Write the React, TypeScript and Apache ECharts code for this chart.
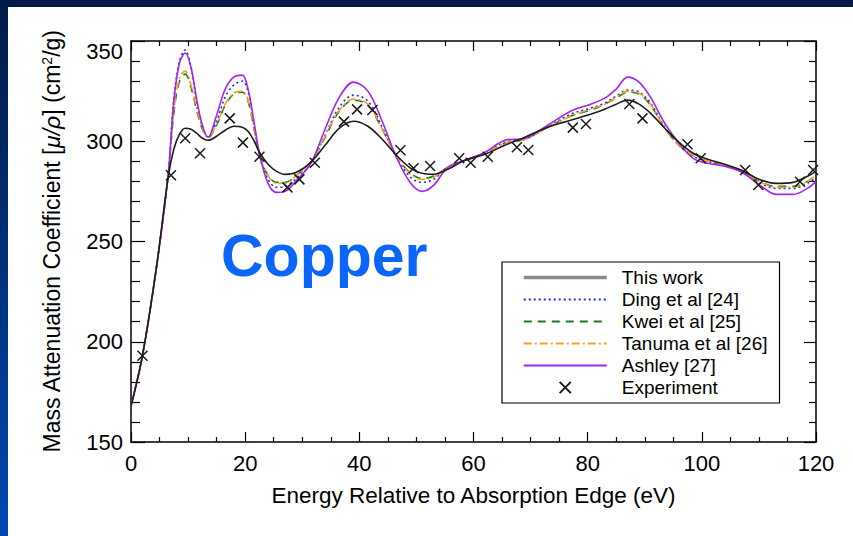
import React, { useEffect, useRef } from "react";
import * as echarts from "echarts";

// Energy grid (eV above the K edge) shared by the model curves
const energyGrid = [
  0, 2, 4.5, 6.5, 7.5, 8.5, 9.5, 10.5, 11.5, 12.5, 13.5, 15, 16.5, 18, 19.5, 20.5,
  21.5, 22.5, 24, 25.5, 27, 29, 31.5, 34, 36.5, 39, 41.5, 44, 46.5, 49, 51, 53,
  55.5, 58.5, 62, 65.5, 69, 73, 77, 80.5, 83, 85, 87, 89, 91, 93.5, 96, 98.5,
  101, 104, 107, 110, 113, 116, 118.5, 120,
];

// Mass attenuation coefficient (cm^2/g) for each model
const thisWork = [
  168, 193, 238, 282, 296, 303.5, 306.5, 306, 304, 301.5, 300.5, 302.5, 305.5, 307.5, 307, 305,
  300.5, 294.5, 288.5, 285, 283.5, 284.5, 289.5, 298, 306.5, 310, 307.5, 301, 293, 286.5, 284, 283.5,
  286, 290.5, 293.5, 298, 302, 307, 310.5, 313.5, 316, 318.5, 320.5, 318.5, 314, 306.5, 299.5, 294,
  291, 288.5, 285.5, 281, 279, 279.5, 282.5, 285,
];
const ding = [
  168, 193, 238, 283, 321, 340, 345.5, 337, 320, 307, 302, 310, 322, 328, 330, 325,
  309, 293, 281, 277, 277.5, 281.5, 289, 303, 317, 323, 320, 307, 292, 282, 279.5, 281,
  287, 290.5, 294, 299.5, 301, 307, 313.5, 316.5, 319, 322.5, 325.5, 324.5, 319, 307, 298, 292.5,
  290, 288, 285, 279.5, 276.5, 276.5, 279, 282,
];
const kwei = [
  168, 193, 238, 283, 314, 330, 333.5, 327, 315.5, 306, 302, 308, 318, 323.5, 324.5, 320,
  307, 293, 283, 279.5, 279.5, 283, 289.5, 302, 315, 320.5, 318, 306, 292.5, 284, 281.5, 282.5,
  287, 290.5, 294, 299, 301, 307, 312.5, 315.5, 318.5, 321.5, 324.5, 323.5, 318, 306.5, 298, 293,
  290, 288, 285, 280, 277.5, 277.5, 280, 283,
];
const tanuma = [
  168, 193, 238, 283, 315, 331.5, 335, 328, 316.5, 306.5, 302, 308.5, 318.5, 324, 325, 320.5,
  307.5, 293, 283, 279, 279, 283, 289.5, 302.5, 315.5, 321, 318.5, 306, 292.5, 283.5, 281, 282,
  287, 290.5, 294, 299, 301, 307, 312.5, 316, 318.5, 322, 325, 324, 318.5, 306.5, 298, 293,
  290, 288, 285, 280, 277, 277, 280, 283,
];
const ashley = [
  168, 193, 238, 283, 320, 339, 344, 337, 321, 308, 302, 313, 326, 332, 333, 326,
  310.5, 294, 279, 274.5, 275, 280.5, 289, 306, 322, 329.5, 325, 310, 292, 279, 275, 278,
  287, 290.5, 294.5, 300.5, 301.5, 308, 315, 318.5, 321.5, 326, 332, 329.5, 322, 309, 299, 291.5,
  289, 287.5, 284.5, 278.5, 273.5, 273.5, 276.5, 280,
];

// Measured points
const expEnergy = [
  2, 7, 9.5, 12.1, 17.3, 19.6, 22.5, 27.4, 29.5, 32.2, 37.3, 39.6, 42.3, 47.2, 49.5, 52.4,
  57.5, 59.5, 62.5, 67.6, 69.6, 77.4, 79.7, 87.3, 89.6, 97.5, 99.8, 107.6, 109.9, 117.2, 119.5,
];
const expValue = [
  193, 283, 301.5, 294, 311.4, 299.3, 292.3, 277, 281, 289.3, 309.8, 315.9, 315.6, 295.5, 286.5, 287.7,
  291.5, 289.3, 292.3, 297, 295.6, 306.8, 308.6, 318.6, 311.4, 298.5, 291.5, 285.7, 278.2, 279.8, 285.7,
];

// Axis ranges
const xRange = { min: 0, max: 120, interval: 20 };
const yRange = { min: 150, max: 350, interval: 50 };

const FONT = "'Liberation Sans', Arial, Helvetica, sans-serif";

const pairs = (xs: number[], ys: number[]) => xs.map((x, i) => [x, ys[i]]);

export default function App() {
  const ref = useRef<HTMLDivElement>(null);

  useEffect(() => {
    if (!ref.current) return;
    const chart = echarts.init(ref.current, undefined, { renderer: "svg" });

    const frame = { show: true, onZero: false, lineStyle: { color: "#000", width: 1.5 } };
    const tickStyle = { color: "#000", width: 1.2 };
    const noMarker = { opacity: 0 };

    const modelLine = (name: string, data: number[], color: string, type: any, width = 1.5, z = 2) => ({
      name,
      type: "line",
      data: pairs(energyGrid, data),
      smooth: 0.35,
      symbol: "none",
      silent: true,
      z,
      itemStyle: { color },
      lineStyle: { color, width, type },
    });

    chart.setOption({
      animation: false,
      backgroundColor: "#fff",
      title: {
        text: "Copper",
        left: 213,
        top: 219,
        padding: 0,
        textStyle: { fontSize: 59, fontWeight: "bold", color: "#0a66f8", fontFamily: FONT },
      },
      grid: { left: 123, top: 34, width: 685, height: 401 },
      legend: {
        orient: "vertical",
        left: 494,
        top: 255,
        padding: [6, 12, 6, 20],
        itemWidth: 83,
        itemHeight: 14,
        itemGap: 3,
        borderColor: "#000",
        borderWidth: 1.2,
        backgroundColor: "#fff",
        selectedMode: false,
        textStyle: { fontSize: 19, color: "#000", fontFamily: FONT, padding: [0, 0, 0, 10] },
        data: [
          {
            name: "This work",
            itemStyle: noMarker,
            lineStyle: { color: "#8a8a8a", width: 3.5, type: "solid" },
          },
          { name: "Ding et al [24]", itemStyle: noMarker },
          { name: "Kwei et al [25]", itemStyle: noMarker },
          { name: "Tanuma et al [26]", itemStyle: noMarker },
          { name: "Ashley [27]", itemStyle: noMarker },
          { name: "Experiment" },
        ],
      },
      xAxis: [
        {
          type: "value",
          ...xRange,
          position: "bottom",
          axisLine: frame,
          axisTick: { inside: true, length: 10, lineStyle: tickStyle },
          minorTick: { show: true, splitNumber: 4, length: 5, lineStyle: tickStyle },
          splitLine: { show: false },
          axisLabel: { margin: 10, fontSize: 22, color: "#000", fontFamily: FONT },
          name: "Energy Relative to Absorption Edge (eV)",
          nameLocation: "middle",
          nameGap: 42,
          nameTextStyle: { fontSize: 22.5, color: "#000", fontFamily: FONT },
        },
        {
          type: "value",
          ...xRange,
          position: "top",
          axisLine: frame,
          axisTick: { inside: true, length: 10, lineStyle: tickStyle },
          minorTick: { show: true, splitNumber: 4, length: 5, lineStyle: tickStyle },
          splitLine: { show: false },
          axisLabel: { show: false },
        },
      ],
      yAxis: [
        {
          type: "value",
          ...yRange,
          position: "left",
          axisLine: frame,
          axisTick: { inside: true, length: 14, lineStyle: tickStyle },
          minorTick: { show: true, splitNumber: 5, length: 9, lineStyle: tickStyle },
          splitLine: { show: false },
          axisLabel: {
            margin: 8,
            fontSize: 22,
            color: "#000",
            fontFamily: FONT,
            formatter: (v: number) => (v === yRange.max ? `{top|${v}}` : String(v)),
            rich: {
              top: { fontSize: 22, color: "#000", fontFamily: FONT, padding: [20, 0, 0, 0] },
            },
          },
          name: "Mass Attenuation Coefficient [{i|μ/ρ}] (cm{sup|2}/g)",
          nameLocation: "middle",
          nameRotate: 90,
          nameGap: 68,
          nameTextStyle: {
            fontSize: 23,
            color: "#000",
            fontFamily: FONT,
            rich: {
              i: { fontSize: 23, fontStyle: "italic", color: "#000", fontFamily: FONT },
              sup: { fontSize: 14, color: "#000", fontFamily: FONT, verticalAlign: "top" },
            },
          },
        },
        {
          type: "value",
          ...yRange,
          position: "right",
          axisLine: frame,
          axisTick: { inside: true, length: 12, lineStyle: tickStyle },
          minorTick: { show: true, splitNumber: 5, length: 7, lineStyle: tickStyle },
          splitLine: { show: false },
          axisLabel: { show: false },
        },
      ],
      series: [
        modelLine("This work", thisWork, "#1e1e1e", "solid", 1.6, 3),
        modelLine("Ding et al [24]", ding, "#1c2cf0", [2, 3], 1.6),
        modelLine("Kwei et al [25]", kwei, "#1d7a1d", [8, 6], 1.6),
        modelLine("Tanuma et al [26]", tanuma, "#f5a21c", [8, 3, 2, 3], 1.6),
        modelLine("Ashley [27]", ashley, "#a424f2", "solid", 1.6, 2),
        {
          name: "Experiment",
          type: "line",
          data: pairs(expEnergy, expValue),
          symbol: "path://M0,0L10,10M10,0L0,10",
          symbolSize: 10,
          showSymbol: true,
          silent: true,
          z: 4,
          lineStyle: { width: 0, opacity: 0 },
          itemStyle: { color: "transparent", borderColor: "#1a1a1a", borderWidth: 1.5 },
        },
      ],
    });

    return () => chart.dispose();
  }, []);

  return (
    <div
      style={{
        position: "fixed",
        left: 0,
        top: 0,
        width: 853,
        height: 536,
        background: "linear-gradient(180deg, #001b47 0%, #00317c 50%, #0049b3 100%)",
      }}
    >
      <div
        ref={ref}
        style={{ position: "absolute", left: 8, top: 7, width: 845, height: 529, background: "#fff" }}
      />
    </div>
  );
}
